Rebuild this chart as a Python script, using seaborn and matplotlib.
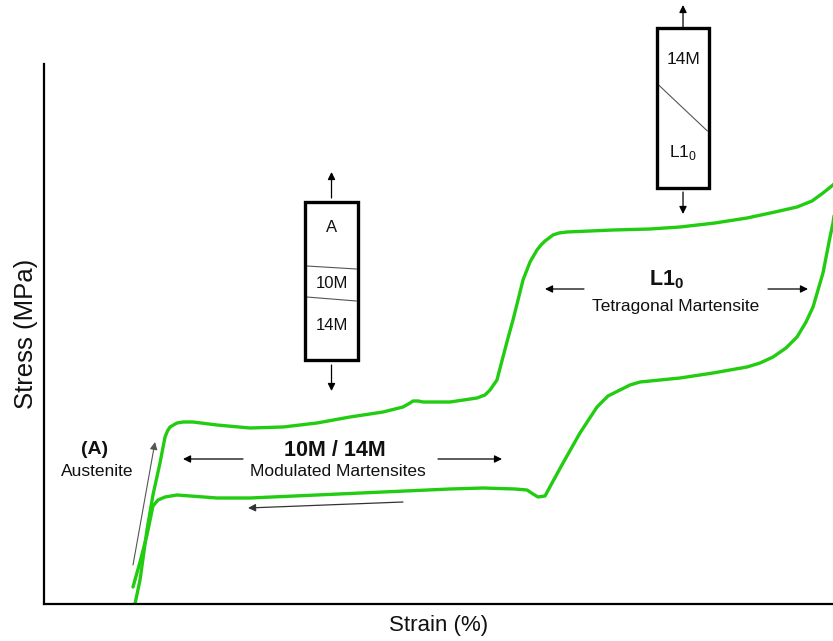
import matplotlib
matplotlib.use("Agg")
import matplotlib.pyplot as plt
from matplotlib.patches import Rectangle
import numpy as np
import pandas as pd
import seaborn as sns

# Loading branch: strain (%) and stress (MPa)
load_strain = [1.153, 1.217, 1.305, 1.381, 1.470, 1.534, 1.565, 1.597, 1.686, 1.762, 1.888,
               2.193, 2.611, 3.029, 3.460, 3.878, 4.297, 4.550, 4.639, 4.677, 4.740,
               4.804, 5.146, 5.488, 5.589, 5.653, 5.741, 5.817, 5.881, 5.944, 6.008,
               6.071, 6.160, 6.248, 6.299, 6.350, 6.451, 6.527, 6.629, 6.920, 7.212,
               7.681, 8.061, 8.504, 8.910, 9.265, 9.544, 9.734, 9.873, 10.000, 10.08]
load_stress = [0, 24, 74, 109, 141, 167, 173, 177, 181, 182, 182,
               179, 176, 177, 181, 187, 192, 197, 201, 203, 203,
               202, 202, 206, 209, 214, 224, 247, 266, 284, 304,
               324, 342, 354, 359, 363, 369, 371, 372, 373, 374,
               375, 377, 381, 386, 392, 397, 403, 411, 419, 426]

# Unloading branch
unload_strain = [10.08, 10.000, 9.962, 9.873, 9.747, 9.658, 9.544, 9.404, 9.240, 9.075,
                 8.910, 8.479, 8.061, 7.554, 7.427, 7.300, 7.148, 7.009, 6.793, 6.578,
                 6.439, 6.350, 6.261, 6.198, 6.122, 5.970, 5.564, 5.146, 4.297, 3.460,
                 2.611, 2.193, 1.686, 1.534, 1.445, 1.381, 1.305, 1.217, 1.128]
unload_stress = [426, 381, 367, 331, 297, 282, 267, 256, 247, 241,
                 237, 231, 226, 222, 219, 214, 208, 197, 171, 141,
                 121, 108, 107, 110, 114, 115, 116, 115, 112, 109,
                 106, 106, 109, 107, 104, 98, 69, 42, 17]

curves = pd.concat([
    pd.DataFrame({"strain": load_strain, "stress": load_stress, "branch": "loading"}),
    pd.DataFrame({"strain": unload_strain, "stress": unload_stress, "branch": "unloading"}),
], ignore_index=True)

green = "#22cc11"

sns.set_style("white")
plt.rcParams["font.family"] = ["Liberation Sans", "DejaVu Sans"]
plt.rcParams["text.color"] = "#111111"
plt.rcParams["axes.labelcolor"] = "#111111"

fig = plt.figure(figsize=(8.33, 6.41), dpi=100)
ax = fig.add_axes([44 / 833, 37 / 641, 789 / 833, 540 / 641])

sns.lineplot(data=curves, x="strain", y="stress", hue="branch",
             palette={"loading": green, "unloading": green},
             sort=False, estimator=None, legend=False, lw=2.4, ax=ax)
for ln in ax.lines:
    ln.set_solid_joinstyle("round")
    ln.set_solid_capstyle("round")

ax.set_xlim(0, 10)
ax.set_ylim(0, 540)
ax.set_xticks([])
ax.set_yticks([])
for side in ("top", "right"):
    ax.spines[side].set_visible(False)
for side in ("left", "bottom"):
    ax.spines[side].set_color("black")
    ax.spines[side].set_linewidth(1.6)

ax.set_xlabel("Strain (%)", fontsize=16, labelpad=8)
ax.set_ylabel("Stress (MPa)", fontsize=18.5, labelpad=4)


def arrow(x0, y0, x1, y1, color="black", lw=0.9):
    ax.annotate("", xy=(x1, y1), xytext=(x0, y0),
                arrowprops=dict(arrowstyle="-|>", color=color, lw=lw,
                                mutation_scale=11, shrinkA=0, shrinkB=0),
                annotation_clip=False)


# Specimen sketch: austenite with 10M and 14M layers
ax.add_patch(Rectangle((3.308, 244), 0.672, 158, fill=False, ec="black", lw=2.4,
                       clip_on=False, zorder=4))
ax.plot([3.330, 3.960], [338, 335], color="#555555", lw=0.8)
ax.plot([3.330, 3.960], [307, 303], color="#555555", lw=0.8)
ax.text(3.644, 376, "A", ha="center", va="center", fontsize=12)
ax.text(3.644, 320, "10M", ha="center", va="center", fontsize=12)
ax.text(3.644, 278, "14M", ha="center", va="center", fontsize=12)
arrow(3.644, 406, 3.644, 432)
arrow(3.644, 239, 3.644, 213)

# Specimen sketch: 14M transforming to L1_0
ax.add_patch(Rectangle((7.769, 416), 0.659, 160, fill=False, ec="black", lw=2.4,
                       clip_on=False, zorder=4))
ax.plot([7.790, 8.408], [519, 473], color="#555555", lw=0.8, clip_on=False)
ax.text(8.099, 544, "14M", ha="center", va="center", fontsize=12.5, clip_on=False)
ax.text(8.099, 452, r"L1$_\mathregular{0}$", ha="center", va="center", fontsize=12.5)
arrow(8.099, 577, 8.099, 599)
arrow(8.099, 412, 8.099, 390)

# Austenite region
arrow(1.128, 39, 1.407, 162, color="#555555", lw=0.8)
ax.text(0.646, 154, "(A)", ha="center", va="center", fontsize=14, fontweight="bold")
ax.text(0.672, 132, "Austenite", ha="center", va="center", fontsize=12.5)

# Modulated martensite plateau
ax.text(3.688, 154, "10M / 14M", ha="center", va="center", fontsize=15.5, fontweight="bold")
ax.text(3.726, 132, "Modulated Martensites", ha="center", va="center", fontsize=12.5)
arrow(2.522, 145, 1.762, 145)
arrow(4.994, 145, 5.805, 145)
arrow(4.550, 102, 2.586, 96, color="#333333")

# Tetragonal martensite plateau
ax.text(7.896, 324, r"L1$_\mathregular{0}$", ha="center", va="center", fontsize=15.5,
        fontweight="bold")
ax.text(8.010, 298, "Tetragonal Martensite", ha="center", va="center", fontsize=12.5)
arrow(6.844, 315, 6.350, 315)
arrow(9.176, 315, 9.683, 315)

fig.savefig("out.png", dpi=100)
